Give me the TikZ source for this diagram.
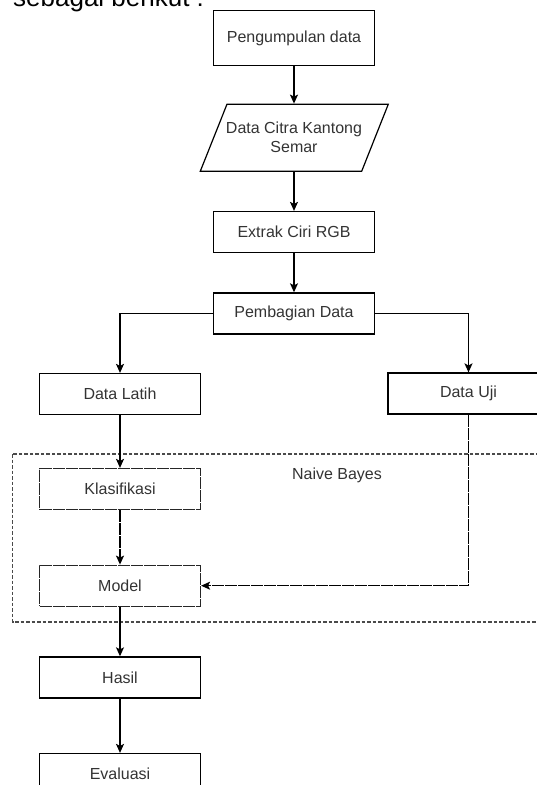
\documentclass[tikz,border=0pt]{standalone}
\usepackage{fontspec}
\setmainfont{Liberation Sans}
\usetikzlibrary{arrows.meta}
\definecolor{txt}{HTML}{333333}
\definecolor{frame}{HTML}{4A4A4A}
\tikzset{
  box/.style={draw=black, line width=1.2pt, minimum width=161pt, minimum height=41pt,
    inner sep=0pt, font=\fontsize{16pt}{19pt}\selectfont, text=txt, align=center},
  dbox/.style={box, draw=black!85, dash pattern=on 12pt off 1pt},
  conn/.style={line width=1.2pt, -{Stealth[length=9pt,width=8pt,inset=2pt]}},
  dconn/.style={conn, dash pattern=on 12pt off 1pt},
  group/.style={draw=frame, line width=1.1pt, dash pattern=on 3.5pt off 2pt}
}
\begin{document}
\begin{tikzpicture}[x=1pt,y=-1pt]
\useasboundingbox (0,0) rectangle (537,785);
\clip (0,0) rectangle (537,785);
\node[anchor=base west, font=\fontsize{26pt}{30pt}\selectfont, text=black, inner sep=0pt] (intro) at (13,6) {sebagai berikut :};
% container
\draw[group] (12.7,454) rectangle (570,622);
\node[font=\fontsize{16pt}{19pt}\selectfont, text=txt, inner sep=0pt] (nb) at (337,475) {Naive Bayes};
% nodes
\node[box, minimum height=55.5pt] (pd) at (294,38) {Pengumpulan data};
\node[box, draw=none, minimum height=67pt, minimum width=188pt] (dc) at (294,137.7) {Data Citra Kantong\\Semar};
\draw[line width=1.2pt] (227,104.2) -- (388.3,104.2) -- (361.7,171.2) -- (200.3,171.2) -- cycle;
\node[box] (ex) at (294,232) {Extrak Ciri RGB};
\node[box] (pb) at (294,313.4) {Pembagian Data};
\node[box] (dl) at (120,394) {Data Latih};
\node[box] (du) at (468.5,393.5) {Data Uji};
\node[dbox] (kl) at (120,489) {Klasifikasi};
\node[dbox] (mo) at (120,585.7) {Model};
\node[box] (ha) at (120,677.4) {Hasil};
\node[box] (ev) at (120,774) {Evaluasi};
% connectors
\draw[conn] (pd) -- (dc.north);
\draw[conn] (dc.south) -- (ex);
\draw[conn] (ex) -- (pb);
\draw[conn] (pb.west) -| (dl.north);
\draw[conn] (pb.east) -| (du.north);
\draw[conn] (dl) -- (kl);
\draw[dconn] (kl) -- (mo);
\draw[dconn] (du.south) |- (mo.east);
\draw[conn] (mo) -- (ha);
\draw[conn] (ha) -- (ev);
\end{tikzpicture}
\end{document}
